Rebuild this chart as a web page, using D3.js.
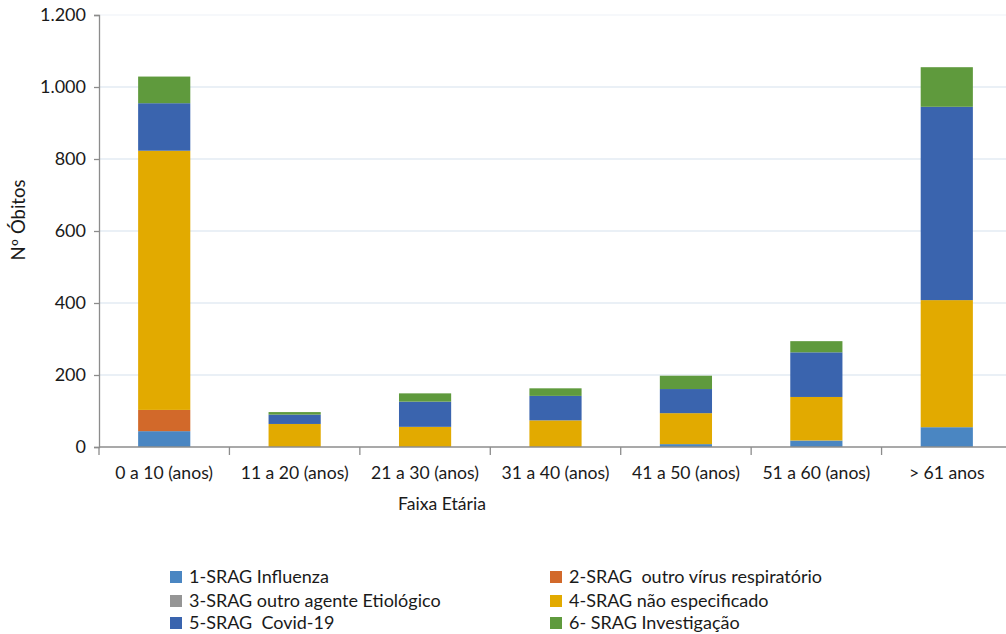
<!DOCTYPE html>
<html>
<head>
<meta charset="utf-8">
<script src="https://cdn.jsdelivr.net/npm/d3@7/dist/d3.min.js"></script>
<style>
  html, body { margin: 0; padding: 0; background: #ffffff; }
  svg { display: block; font-family: Lato, "Open Sans", sans-serif; }
</style>
</head>
<body>
<svg id="chart" width="1006" height="634"></svg>
<script>
// Age groups on the x axis
const categories = ["0 a 10 (anos)", "11 a 20 (anos)", "21 a 30 (anos)", "31 a 40 (anos)",
                    "41 a 50 (anos)", "51 a 60 (anos)", "> 61 anos"];

// Deaths per classification, one value per age group
const influenza     = [44, 0, 0, 0, 8, 18, 55];
const outroVirus    = [59, 0, 0, 0, 0, 0, 0];
const outroAgente   = [0, 0, 0, 0, 0, 0, 0];
const naoEspecif    = [720, 64, 56, 74, 86, 121, 353];
const covid19       = [132, 26, 70, 68, 67, 124, 537];
const investigacao  = [74, 7, 23, 21, 37, 31, 110];

const seriesNames = ["1-SRAG Influenza", "2-SRAG  outro vírus respiratório",
                     "3-SRAG outro agente Etiológico", "4-SRAG não especificado",
                     "5-SRAG  Covid-19", "6- SRAG Investigação"];
const seriesColors = ["#4a86c2", "#d2692a", "#959595", "#e2aa00", "#3a64ae", "#5f9a3d"];

const yTicks = [0, 200, 400, 600, 800, 1000, 1200];

const seriesValues = [influenza, outroVirus, outroAgente, naoEspecif, covid19, investigacao];
const rows = categories.map((c, i) => {
  const r = { cat: c };
  seriesNames.forEach((s, k) => { r[s] = seriesValues[k][i]; });
  return r;
});

const svg = d3.select("#chart");
const x = d3.scaleBand().domain(categories).range([99, 1012]).paddingInner(0.6).paddingOuter(0.3);
const y = d3.scaleLinear().domain([0, 1200]).range([447, 15]);
const fmt = v => d3.format(",")(v).replace(/,/g, ".");

// horizontal gridlines
svg.append("g").selectAll("line").data(yTicks.filter(t => t > 0)).join("line")
  .attr("x1", 99).attr("x2", 1006)
  .attr("y1", d => y(d)).attr("y2", d => y(d))
  .attr("stroke", d => d === 1200 ? "#eef2f8" : "#d6e1ee").attr("stroke-width", 1.2);

// stacked bars
const stack = d3.stack().keys(seriesNames)(rows);
svg.append("g").selectAll("g").data(stack).join("g")
  .attr("fill", (d, i) => seriesColors[i])
  .selectAll("rect").data(d => d).join("rect")
  .attr("x", d => x(d.data.cat))
  .attr("width", x.bandwidth())
  .attr("y", d => y(d[1]))
  .attr("height", d => Math.max(0, y(d[0]) - y(d[1])));

// y axis
const yAxis = d3.axisLeft(y).tickValues(yTicks).tickFormat(fmt).tickSize(5).tickPadding(8);
const gy = svg.append("g").attr("transform", "translate(99,0)").call(yAxis);
gy.select(".domain").attr("stroke", "#8c8c8c").attr("stroke-width", 1.3);
gy.selectAll(".tick line").attr("stroke", "#8c8c8c").attr("stroke-width", 1.3);
gy.selectAll(".tick text").attr("font-size", 18).attr("fill", "#1a1a1a")
  .attr("font-family", "Lato, sans-serif");

// x axis with ticks at band boundaries
const xStart = 99;
const gx = svg.append("g");
gx.append("line").attr("x1", xStart).attr("x2", 1006).attr("y1", 447).attr("y2", 447)
  .attr("stroke", "#8c8c8c").attr("stroke-width", 1.3);
gx.selectAll("line.tk").data(d3.range(categories.length + 1)).join("line")
  .attr("class", "tk")
  .attr("x1", i => xStart + i * x.step())
  .attr("x2", i => xStart + i * x.step())
  .attr("y1", 447).attr("y2", 455)
  .attr("stroke", "#8c8c8c").attr("stroke-width", 1.3);
gx.selectAll("text").data(categories).join("text")
  .attr("x", d => x(d) + x.bandwidth() / 2)
  .attr("y", 479)
  .attr("text-anchor", "middle")
  .attr("font-size", 17.6).attr("fill", "#1a1a1a")
  .text(d => d);

// axis titles
svg.append("text").attr("x", 442).attr("y", 510).attr("text-anchor", "middle")
  .attr("font-size", 17.6).attr("fill", "#1a1a1a").text("Faixa Etária");
svg.append("text").attr("transform", "translate(25,220) rotate(-90)")
  .attr("text-anchor", "middle").attr("font-size", 18.5).attr("fill", "#1a1a1a")
  .text("Nº Óbitos");

// legend in two columns
const legendPos = [[170, 577], [550, 577], [170, 601], [550, 601], [170, 623], [550, 623]];
const lg = svg.append("g").selectAll("g").data(seriesNames).join("g")
  .attr("transform", (d, i) => `translate(${legendPos[i][0]},${legendPos[i][1]})`);
lg.append("rect").attr("x", 0).attr("y", -6).attr("width", 12).attr("height", 12)
  .attr("fill", (d, i) => seriesColors[i]);
lg.append("text").attr("x", 19).attr("y", 6).attr("font-size", 18).attr("fill", "#1a1a1a")
  .style("white-space", "pre")
  .text(d => d);
</script>
</body>
</html>
